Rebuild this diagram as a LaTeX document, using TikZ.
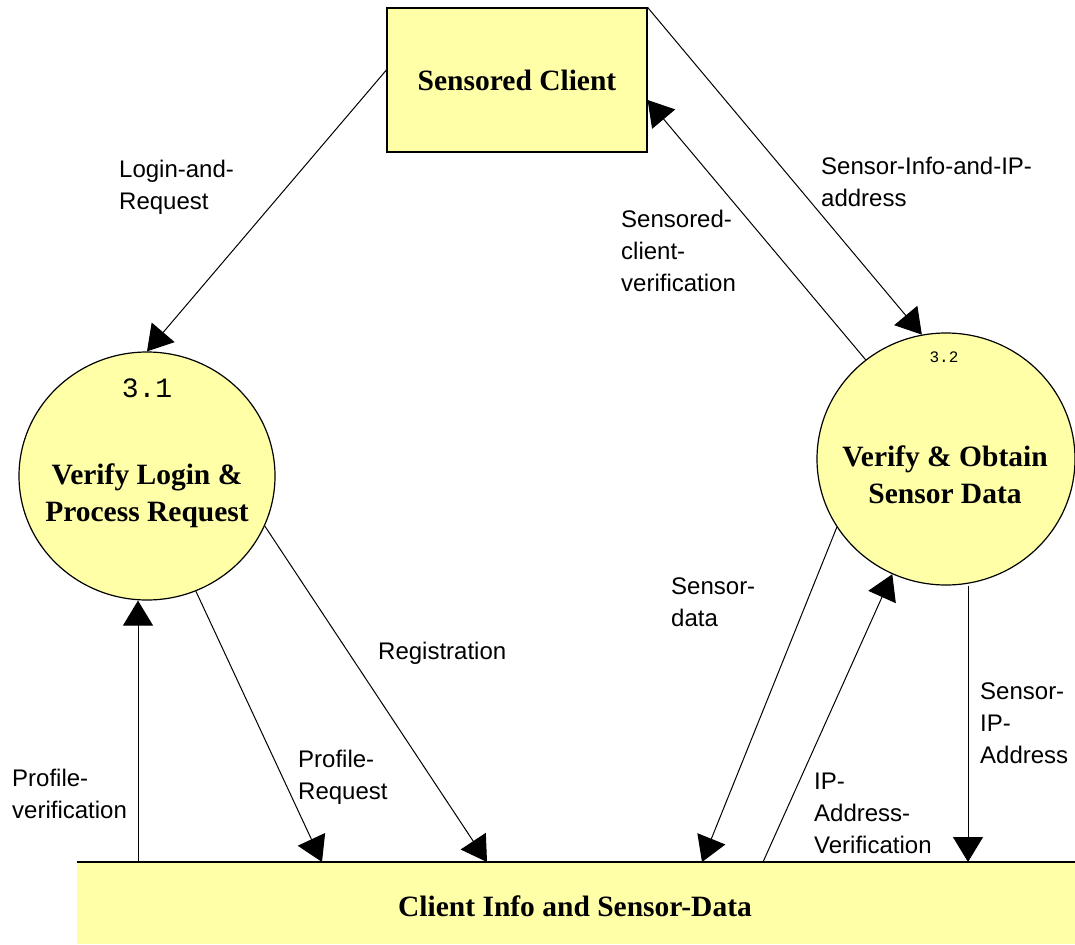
\documentclass[tikz,border=0pt]{standalone}
\usepackage{fontspec}
\setmainfont{Liberation Serif}
\newfontfamily\labfont{Liberation Sans}
\newfontfamily\numfont{Liberation Mono}
\usetikzlibrary{arrows.meta,shapes.geometric}
\definecolor{procyellow}{RGB}{255,255,168}
\begin{document}
\begin{tikzpicture}[x=1pt,y=-1pt,
  flow/.style={draw, line width=1pt, -{Triangle[length=25pt,width=30pt]}},
  lbl/.style={anchor=north west, inner sep=0pt, align=left, font=\fontsize{24}{32}\selectfont\labfont},
  ttl/.style={font=\fontsize{29.5}{37}\selectfont\bfseries, align=center, inner sep=0pt},
  proc/.style={ellipse, draw, line width=1.2pt, fill=procyellow, inner sep=0pt},
  entity/.style={draw, line width=1.2pt, fill=procyellow, minimum width=260pt, minimum height=144pt, inner sep=0pt},
  storebox/.style={fill=procyellow, minimum width=998pt, minimum height=82pt, anchor=north west, inner sep=0pt},
]
\useasboundingbox (0,0) rectangle (1075,944);

% external entity
\node[entity, ttl] (client) at (517,80) {Sensored Client};

% processes
\node[proc, minimum width=256pt, minimum height=248pt] (p1) at (147,476) {};
\node[ttl] (p1t) at (147,496) {Verify Login \&\\Process Request};
\node[font=\fontsize{28}{28}\selectfont\numfont, inner sep=0pt] (p1n) at (147,388) {3.1};

\node[proc, minimum width=258pt, minimum height=252pt] (p2) at (946,459) {};
\node[ttl] (p2t) at (945,475) {Verify \& Obtain\\Sensor Data};
\node[font=\fontsize{16}{16}\selectfont\numfont, inner sep=0pt] (p2n) at (944,357) {3.2};

% data store
\node[storebox] (store) at (77,862) {};
\draw[line width=1.2pt] (store.north west) -- (store.north east);
\node[ttl] (storet) at (575,906) {Client Info and Sensor-Data};

% points on the store's top line
\coordinate (pvB) at ([xshift=61pt]store.north west);
\coordinate (prB) at ([xshift=245pt]store.north west);
\coordinate (rgB) at ([xshift=410pt]store.north west);
\coordinate (sdB) at ([xshift=625pt]store.north west);
\coordinate (ipB) at ([xshift=686pt]store.north west);
\coordinate (siB) at ([xshift=891pt]store.north west);

% flows
\draw[flow] ([yshift=10pt]client.west) -- (p1.north);
\draw[flow] (client.north east) -- (p2.101);
\draw[flow] (p2.129) -- ([yshift=-20pt]client.east);
\draw[flow] (pvB) -- (pvB |- p1.south);
\draw[flow] (p1.-67) -- (prB);
\draw[flow] (p1.-23) -- (rgB);
\draw[flow] (p2.-148) -- (sdB);
\draw[flow] (ipB) -- (p2.-115);
\draw[flow] (siB |- p2.south) -- (siB);

% labels
\node[lbl] (l1) at (119,160) {Login-and-\\Request};
\node[lbl] (l2) at (821,157) {Sensor-Info-and-IP-\\address};
\node[lbl] (l3) at (621,210) {Sensored-\\client-\\verification};
\node[lbl] (l4) at (378,642) {Registration};
\node[lbl] (l5) at (298,750) {Profile-\\Request};
\node[lbl] (l6) at (12,769) {Profile-\\verification};
\node[lbl] (l7) at (671,578) {Sensor-\\data};
\node[lbl] (l8) at (980,683) {Sensor-\\IP-\\Address};
\node[lbl] (l9) at (814,773) {IP-\\Address-\\Verification};
\end{tikzpicture}
\end{document}
